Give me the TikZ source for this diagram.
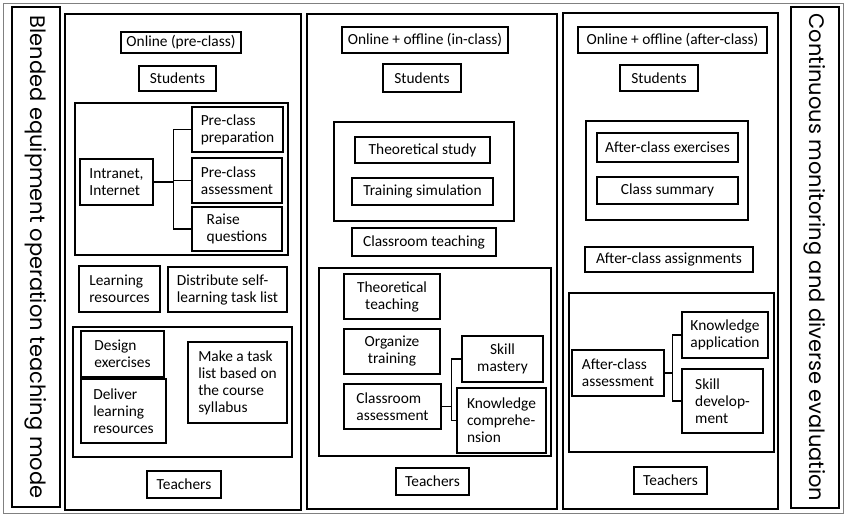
\documentclass[tikz,border=0pt]{standalone}
\usepackage{fontspec}
\setmainfont{Carlito}
\newfontfamily\sidefont{Poppins}
\begin{document}
\begin{tikzpicture}[x=1pt,y=-1pt,
	box/.style={draw,line width=1.5pt,inner sep=3pt,align=center,font=\fontsize{15.4}{17}\selectfont},
	lbox/.style={box,align=left},
	sz/.style 2 args={minimum width=#1,minimum height=#2},
	frame/.style={draw,line width=1.2pt},
	side/.style={rotate=-90,font=\sidefont\fontsize{21}{24}\selectfont}]
	\useasboundingbox (0,0) rectangle (846,516);
	\draw[line width=0.6pt,gray] (3,3) rectangle (843,513);
	% side boxes
	\draw[frame] (12,7) rectangle (60,507);
	\node[side] (mode) at (36,257) {Blended equipment operation teaching mode};
	\draw[frame] (791,7) rectangle (839,508);
	\node[side] (eval) at (815,257.5) {Continuous monitoring and diverse evaluation};
	% columns
	\draw[frame] (65,14) rectangle (301,510);
	\draw[frame] (307,14) rectangle (557,509);
	\draw[frame] (563,13) rectangle (778,509);

	% pre-class
	\node[box,sz={120}{21}] (on1) at (181,42.5) {Online (pre-class)};
	\node[box,sz={77}{25}] (st1) at (177.5,78.5) {Students};
	\draw[frame] (75,103) rectangle (288,255);
	\node[lbox,sz={73}{46}] (net) at (116.5,182) {Intranet,\\Internet};
	\node[lbox,sz={91}{45}] (prep) at (237.5,129.5) {Pre-class\\preparation};
	\node[lbox,sz={90}{45}] (pass) at (237,180.5) {Pre-class\\assessment};
	\node[lbox,sz={90}{44}] (raise) at (237,229) {Raise\\questions};
	\draw[line width=1.2pt] (net.east) -- ++(20,0) coordinate (j1);
	\draw[line width=1.2pt] (prep.west) -| (j1) |- (raise.west);
	\draw[line width=1.2pt] (j1) |- (pass.west);
	\node[lbox,sz={81}{46}] (lres) at (119.5,289) {Learning\\resources};
	\node[lbox,sz={119}{45}] (dist) at (227.5,289.5) {Distribute self-\\learning task list};
	\draw[frame] (73,327) rectangle (292,457);
	\node[lbox,sz={83}{46}] (des) at (122.5,354) {Design\\exercises};
	\node[lbox,sz={85}{64}] (deliv) at (123.5,411) {Deliver\\learning\\resources};
	\node[lbox,sz={99}{81}] (task) at (237.5,382.5) {Make a task\\list based on\\the course\\syllabus};
	\node[box,sz={74}{27}] (tea1) at (184,484.5) {Teachers};

	% in-class
	\node[box,sz={166}{26}] (on2) at (425,40) {Online + offline (in-class)};
	\node[box,sz={78}{28}] (st2) at (422,78) {Students};
	\draw[frame] (334,122) rectangle (514,221);
	\node[box,sz={135}{26}] (theo) at (422.5,150) {Theoretical study};
	\node[box,sz={141}{27}] (sim) at (422.5,191.5) {Training simulation};
	\node[box,sz={144}{28}] (crt) at (424,242) {Classroom teaching};
	\draw[frame] (319,268) rectangle (551,456);
	\node[box,sz={96}{45}] (tt) at (392,296.5) {Theoretical\\teaching};
	\node[box,sz={96}{45}] (org) at (392,351.5) {Organize\\training};
	\node[lbox,sz={97}{45}] (cas) at (392.5,406.5) {Classroom\\assessment};
	\node[box,sz={81}{46}] (skm) at (502.5,359) {Skill\\mastery};
	\node[lbox,sz={89}{65}] (kco) at (501.5,420.5) {Knowledge\\comprehe-\\nsion};
	\draw[line width=1.2pt] (cas.east) -- ++(10,0) coordinate (j2);
	\draw[line width=1.2pt] (skm.west) -| (j2) |- (kco.west);
	\node[box,sz={73}{27}] (tea2) at (432.5,481.5) {Teachers};

	% after-class
	\node[box,sz={189}{26}] (on3) at (672.5,40) {Online + offline (after-class)};
	\node[box,sz={78}{26}] (st3) at (659,78) {Students};
	\draw[frame] (586,121) rectangle (748,220);
	\node[box,sz={141}{29}] (exe) at (667.5,147.5) {After-class exercises};
	\node[box,sz={141}{27}] (sum) at (667.5,190.5) {Class summary};
	\node[box,sz={168}{25}] (asg) at (669,259.5) {After-class assignments};
	\draw[frame] (569,293) rectangle (774,452);
	\node[lbox,sz={92}{46}] (aas) at (618,373) {After-class\\assessment};
	\node[lbox,sz={86}{46}] (kap) at (725,335) {Knowledge\\application};
	\node[lbox,sz={81}{64}] (skd) at (722.5,401) {Skill\\develop-\\ment};
	\draw[line width=1.2pt] (aas.east) -- ++(8,0) coordinate (j3);
	\draw[line width=1.2pt] (kap.west) -| (j3) |- (skd.west);
	\node[box,sz={73}{27}] (tea3) at (670.5,480.5) {Teachers};
\end{tikzpicture}
\end{document}
